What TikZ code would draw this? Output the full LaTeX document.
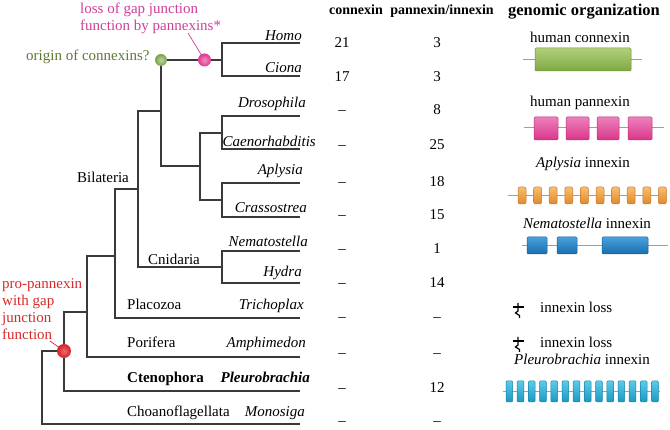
\documentclass[tikz,border=0pt]{standalone}
\usepackage{fontspec}
\setmainfont{Liberation Serif}
\definecolor{treegray}{HTML}{3A3A3A}
\definecolor{magtext}{HTML}{D0409A}
\definecolor{olivetext}{HTML}{5E7A33}
\definecolor{redtext}{HTML}{D82A2A}
\definecolor{dotgreen}{HTML}{86B552}
\definecolor{dotpink}{HTML}{E4348C}
\definecolor{dotred}{HTML}{D81E25}
\definecolor{geneline}{HTML}{7FA6C9}
\definecolor{cxtop}{HTML}{B0D07A}\definecolor{cxbot}{HTML}{7FA844}\definecolor{cxedge}{HTML}{6D8F3C}
\definecolor{pxtop}{HTML}{EE80BC}\definecolor{pxbot}{HTML}{D8368A}\definecolor{pxedge}{HTML}{C02E7A}
\definecolor{ortop}{HTML}{F7BE70}\definecolor{orbot}{HTML}{E0892A}\definecolor{oredge}{HTML}{C87824}
\definecolor{bltop}{HTML}{45A2DE}\definecolor{blbot}{HTML}{1C6DAC}\definecolor{bledge}{HTML}{1A5E96}
\definecolor{cytop}{HTML}{5CCBEA}\definecolor{cybot}{HTML}{1A98C2}\definecolor{cyedge}{HTML}{1786AC}
\begin{document}
\begin{tikzpicture}[x=1pt,y=-1pt,
  every node/.style={inner sep=0pt, font=\fontsize{15pt}{17pt}\selectfont},
  tree/.style={draw=treegray, line width=1.3pt},
  sp/.style={anchor=base east, font=\fontsize{15pt}{17pt}\selectfont\itshape},
  spb/.style={anchor=base east, font=\fontsize{15pt}{17pt}\selectfont\bfseries\itshape},
  clade/.style={anchor=base west},
  num/.style={anchor=base},
  hdr/.style={anchor=base, font=\fontsize{14pt}{17pt}\selectfont\bfseries},
  genetitle/.style={anchor=base},
  gene/.style={draw=geneline, line width=1pt},
  exon/.style={line width=0.5pt, rounded corners=1.2pt},
  dot/.style={circle, minimum size=#1, inner sep=0pt},
  losssym/.style={draw=black, line width=1.2pt}
]
\useasboundingbox[fill=white] (0,0) rectangle (670,430);

% ---------- leaf ends ----------
\coordinate (homo) at (300,43);
\coordinate (ciona) at (300,76);
\coordinate (droso) at (300,116);
\coordinate (caeno) at (300,149);
\coordinate (aply) at (300,183);
\coordinate (crass) at (300,217);
\coordinate (nemat) at (300,251);
\coordinate (hydra) at (300,283);
\coordinate (tricho) at (300,318);
\coordinate (amph) at (300,357);
\coordinate (pleuro) at (300,391);
\coordinate (monos) at (300,424);
% ---------- internal nodes ----------
\coordinate (nHC) at (222,60);
\coordinate (nDC) at (222,133);
\coordinate (nAC) at (222,200);
\coordinate (nPr) at (200,166);
\coordinate (nBI) at (161,111);
\coordinate (nNH) at (222,267);
\coordinate (nBC) at (138,189);
\coordinate (nPl) at (115,256);
\coordinate (nPo) at (87,312);
\coordinate (nCt) at (64,351);
\coordinate (nRoot) at (42,351);

\draw[tree] (homo) -| (nHC) |- (ciona);
\draw[tree] (droso) -| (nDC) |- (caeno);
\draw[tree] (aply) -| (nAC) |- (crass);
\draw[tree] (nDC) -| (nPr) |- (nAC);
\draw[tree] (nHC) -| (nBI) |- (nPr);
\draw[tree] (nemat) -| (nNH) |- (hydra);
\draw[tree] (nBI) -| (nBC) |- (nNH);
\draw[tree] (nBC) -| (nPl) |- (tricho);
\draw[tree] (nPl) -| (nPo) |- (amph);
\draw[tree] (nPo) -| (nCt) |- (pleuro);
\draw[tree] (nCt) -| (nRoot) |- (monos);

% ---------- annotations ----------
\node[anchor=base west, align=left, text=magtext] (losstxt) at (80,30.5) {loss of gap junction\\function by pannexins*};
\coordinate (losstip) at (188,33);
\node[anchor=base west, text=olivetext] (origtxt) at (26,60.5) {origin of connexins?};
\node[anchor=base west, align=left, text=redtext] (protxt) at (2,339.5) {pro-pannexin\\with gap\\junction\\function};
\coordinate (protip) at (50,341);

\node[dot=12pt, shading=radial, inner color=dotgreen!55!white, outer color=dotgreen!90!black] (gdot) at (nBI |- nHC) {};
\draw[magtext, line width=0.7pt] (losstip) -- (204.5,60);
\node[dot=13pt, shading=radial, inner color=dotpink!55!white, outer color=dotpink] (pdot) at (204.5,60) {};
\draw[redtext, line width=0.7pt] (protip) -- (nCt);
\node[dot=14pt, shading=radial, inner color=dotred!65!white, outer color=dotred] (rdot) at (nCt) {};

% ---------- species ----------
\node[sp] (lHomo) at (302,41) {Homo};
\node[sp] (lCiona) at (302,73) {Ciona};
\node[sp] (lDroso) at (306,108) {Drosophila};
\node[sp] (lCaeno) at (316,147) {Caenorhabditis};
\node[sp] (lAply) at (303,175) {Aplysia};
\node[sp] (lCrass) at (307,213) {Crassostrea};
\node[sp] (lNemat) at (308,247) {Nematostella};
\node[sp] (lHydra) at (302,277) {Hydra};
\node[sp] (lTricho) at (304,310) {Trichoplax};
\node[sp] (lAmph) at (306,348) {Amphimedon};
\node[spb] (lPleuro) at (310,383) {Pleurobrachia};
\node[sp] (lMonos) at (305,417) {Monosiga};

% ---------- clades ----------
\node[clade] (cBil) at (77,183) {Bilateria};
\node[clade] (cCni) at (148,265) {Cnidaria};
\node[clade] (cPla) at (127,310) {Placozoa};
\node[clade] (cPor) at (127,348) {Porifera};
\node[clade, font=\fontsize{15pt}{17pt}\selectfont\bfseries] (cCte) at (127,383) {Ctenophora};
\node[clade] (cCho) at (127,417) {Choanoflagellata};

% ---------- headers ----------
\node[hdr] (hCx) at (356,15) {connexin};
\node[hdr] (hPx) at (442,15) {pannexin/innexin};
\node[hdr, font=\fontsize{16.5pt}{18pt}\selectfont\bfseries] (hGen) at (584,16) {genomic organization};

% ---------- counts ----------
\foreach \y/\a/\b [count=\k] in {48/21/3, 82/17/3, 115/--/8, 150/--/25, 187/--/18, 220/--/15, 254/--/1, 288/--/14, 322/--/--, 358/--/--, 393/--/12, 426/--/--}{
  \node[num] (cx\k) at (342,\y) {\a};
  \node[num] (px\k) at (437,\y) {\b};
}

% ---------- genomic organization ----------
\node[genetitle] (tCx) at (580,43) {human connexin};
\draw[gene] (523,60) -- (642,60);
\shade[exon, top color=cxtop, bottom color=cxbot, draw=cxedge] (535,48) rectangle (631,71);

\node[genetitle] (tPx) at (580,107) {human pannexin};
\draw[gene] (524,128) -- (664,128);
\foreach \a/\b in {534/558, 566/589, 597/619, 628/652}
  \shade[exon, top color=pxtop, bottom color=pxbot, draw=pxedge] (\a,117) rectangle (\b,140);

\node[genetitle] (tAp) at (583,168) {\textit{Aplysia} innexin};
\draw[gene] (508,196) -- (667,196);
\foreach \i in {0,...,9}
  \shade[exon, rounded corners=2pt, top color=ortop, bottom color=orbot, draw=oredge] (518+15.6*\i,187) rectangle +(8,17);

\node[genetitle] (tNe) at (587,229) {\textit{Nematostella} innexin};
\draw[gene] (522,246) -- (668,246);
\foreach \a/\b in {527/547, 557/577, 602/648}
  \shade[exon, top color=bltop, bottom color=blbot, draw=bledge] (\a,237) rectangle (\b,254);

% innexin loss symbols
\foreach \y/\k in {303/1, 337/2}{
  \draw[losssym] (518,\y) -- (518,\y+8) -- (515.5,\y+10) -- (519.5,\y+12.5) -- (519.5,\y+15);
  \draw[losssym] (513,\y+4) -- (524,\y+4);
}
\node[anchor=base west] (tL1) at (540,313) {innexin loss};
\node[anchor=base west] (tL2) at (540,348) {innexin loss};

\node[genetitle] (tPl) at (582,365) {\textit{Pleurobrachia} innexin};
\draw[gene] (503,392) -- (660,392);
\foreach \i in {0,...,13}
  \shade[exon, rounded corners=1pt, top color=cytop, bottom color=cybot, draw=cyedge] (506+11.2*\i,381) rectangle +(6.7,21);

\end{tikzpicture}
\end{document}
